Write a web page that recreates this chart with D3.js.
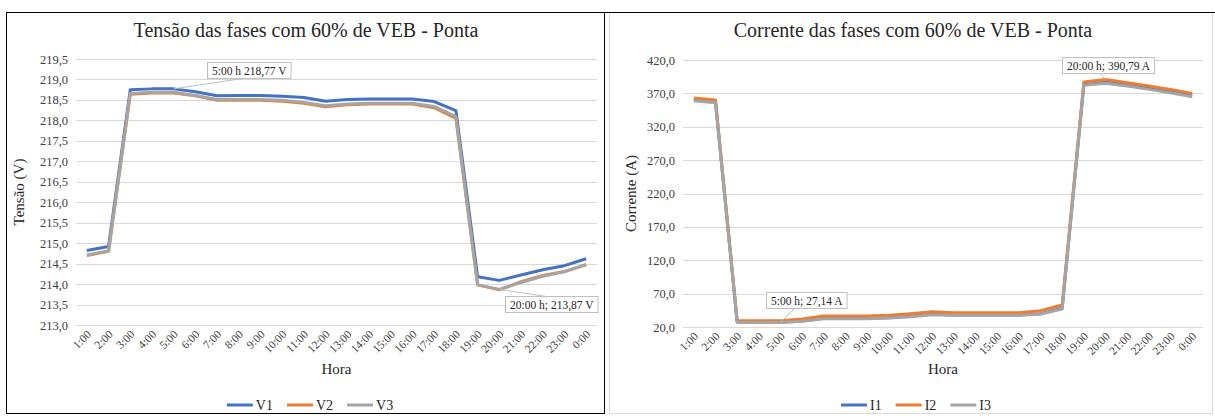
<!DOCTYPE html>
<html>
<head>
<meta charset="utf-8">
<script src="https://cdn.jsdelivr.net/npm/d3@7"></script>
<style>
  html, body { margin: 0; padding: 0; background: #fff; }
  svg { display: block; }
  text { font-family: "Liberation Serif", "Times New Roman", serif; }
</style>
</head>
<body>
<svg id="chart" width="1215" height="420"></svg>
<script>
// Hourly categories shared by both panels
const hours = ["1:00","2:00","3:00","4:00","5:00","6:00","7:00","8:00","9:00","10:00","11:00","12:00",
               "13:00","14:00","15:00","16:00","17:00","18:00","19:00","20:00","21:00","22:00","23:00","0:00"];

// Phase voltages (V)
const v1 = [214.82,214.92,218.75,218.77,218.77,218.70,218.60,218.61,218.61,218.59,218.56,218.47,
            218.51,218.52,218.52,218.52,218.46,218.24,214.18,214.09,214.22,214.35,214.45,214.62];
const v2 = [214.70,214.80,218.64,218.67,218.67,218.60,218.49,218.49,218.49,218.47,218.42,218.33,
            218.38,218.40,218.40,218.40,218.31,218.05,213.98,213.86,214.06,214.21,214.31,214.47];
const v3 = [214.71,214.81,218.66,218.69,218.69,218.61,218.51,218.51,218.51,218.49,218.44,218.36,
            218.40,218.42,218.42,218.42,218.34,218.09,213.98,213.87,214.04,214.19,214.30,214.48];

// Phase currents (A)
const i1 = [360.0,357.0,27.6,27.1,27.14,29.0,33.0,33.0,33.0,34.0,36.0,39.0,
            38.0,38.0,38.0,38.0,40.0,48.0,383.0,386.5,382.5,377.5,372.5,366.0];
const i2 = [363.0,360.0,29.6,29.5,29.5,32.0,36.5,36.5,36.5,37.5,40.0,43.0,
            41.5,41.5,41.5,41.5,44.5,53.0,387.0,390.79,386.0,381.0,376.0,370.0];
const i3 = [359.0,356.0,27.2,26.8,26.9,28.5,32.5,32.5,32.5,33.5,35.5,38.5,
            37.5,37.5,37.5,37.5,39.5,47.0,382.0,385.0,381.0,376.0,371.0,365.0];

// Axis ticks
const voltTicks = [213.0,213.5,214.0,214.5,215.0,215.5,216.0,216.5,217.0,217.5,218.0,218.5,219.0,219.5];
const currTicks = [20,70,120,170,220,270,320,370,420];

const seriesColors = ["#4472C4", "#ED7D31", "#A5A5A5"];

const fmt1 = v => d3.format(".1f")(v).replace(".", ",");
const fmt2 = v => d3.format(".2f")(v).replace(".", ",");

const svg = d3.select("#chart");

// Outer frame and panel borders
svg.append("rect").attr("x", 609.5).attr("y", 12.5).attr("width", 603).attr("height", 401)
  .attr("fill", "none").attr("stroke", "#D9D9D9").attr("stroke-width", 1);
svg.append("line").attr("x1", 604).attr("x2", 1215).attr("y1", 12.5).attr("y2", 12.5)
  .attr("stroke", "#000");
svg.append("rect").attr("x", 6.5).attr("y", 12.5).attr("width", 598).attr("height", 401)
  .attr("fill", "none").attr("stroke", "#000").attr("stroke-width", 1);

function drawPanel(cfg) {
  const g = svg.append("g");
  const x = d3.scaleBand().domain(hours).range([cfg.x0, cfg.x1]);
  const y = d3.scaleLinear().domain(cfg.domain).range([cfg.y1, cfg.y0]);
  const cx = h => x(h) + x.bandwidth() / 2;

  // Title
  g.append("text").attr("x", cfg.titleX).attr("y", cfg.titleY)
    .attr("text-anchor", "middle").attr("font-size", 20).attr("fill", "#262626")
    .text(cfg.title);

  // Horizontal gridlines
  g.append("g").selectAll("line").data(cfg.ticks).join("line")
    .attr("x1", cfg.x0).attr("x2", cfg.x1)
    .attr("y1", d => Math.round(y(d)) + 0.5).attr("y2", d => Math.round(y(d)) + 0.5)
    .attr("stroke", "#D9D9D9").attr("stroke-width", 1);

  // Y axis labels
  const yAxis = d3.axisLeft(y).tickValues(cfg.ticks).tickSize(0).tickPadding(8).tickFormat(fmt1);
  const ya = g.append("g").attr("transform", `translate(${cfg.x0},0)`).call(yAxis);
  ya.select(".domain").remove();
  ya.selectAll("text").attr("font-size", 12.5).attr("fill", "#404040")
    .attr("font-family", "Liberation Serif, serif");

  // X axis labels (rotated)
  const xAxis = d3.axisBottom(x).tickSize(0).tickPadding(0);
  const xa = g.append("g").attr("transform", `translate(0,${cfg.y1})`).call(xAxis);
  xa.select(".domain").remove();
  xa.selectAll("text")
    .attr("font-size", 11.5).attr("fill", "#404040").attr("font-family", "Liberation Serif, serif")
    .attr("text-anchor", "end").attr("dy", null).attr("y", 0)
    .attr("transform", "translate(5,10) rotate(-45)");

  // Axis titles
  g.append("text").attr("transform", `translate(${cfg.yTitleX},${(cfg.y0 + cfg.y1) / 2}) rotate(-90)`)
    .attr("text-anchor", "middle").attr("font-size", 15).attr("fill", "#262626").text(cfg.yTitle);
  g.append("text").attr("x", (cfg.x0 + cfg.x1) / 2).attr("y", 374)
    .attr("text-anchor", "middle").attr("font-size", 15).attr("fill", "#262626").text("Hora");

  // Series lines
  const line = d3.line().x((d, i) => cx(hours[i])).y(d => y(d));
  cfg.series.forEach((s, k) => {
    g.append("path").datum(s.values).attr("d", line)
      .attr("fill", "none").attr("stroke", seriesColors[k]).attr("stroke-width", 3)
      .attr("stroke-linejoin", "round");
  });

  // Data callouts: leader line, boxed label
  cfg.callouts.forEach(c => {
    const s = cfg.series[c.series];
    const idx = hours.indexOf(c.hour);
    const px = cx(c.hour), py = y(s.values[idx]);
    const label = c.text(c.hour, s.values[idx]);
    const cg = g.append("g");
    const leader = cg.append("line");
    const box = cg.append("rect");
    const t = cg.append("text").attr("font-size", 11.5).attr("fill", "#262626").text(label);
    const w = t.node().getComputedTextLength() + 9, h = 16;
    leader.attr("x1", px).attr("y1", py).attr("x2", c.lx).attr("y2", c.ly)
      .attr("stroke", "#BFBFBF").attr("stroke-width", 1);
    box.attr("x", c.bx + 0.5).attr("y", c.by + 0.5).attr("width", w).attr("height", h)
      .attr("fill", "#fff").attr("stroke", "#BFBFBF").attr("stroke-width", 1);
    t.attr("x", c.bx + 5).attr("y", c.by + 12.5);
  });

  // Legend
  const lg = g.append("g");
  let lx = 0;
  cfg.series.forEach((s, k) => {
    lg.append("line").attr("x1", lx).attr("x2", lx + 26).attr("y1", 405).attr("y2", 405)
      .attr("stroke", seriesColors[k]).attr("stroke-width", 3);
    const tt = lg.append("text").attr("x", lx + 29).attr("y", 410)
      .attr("font-size", 14).attr("fill", "#262626").text(s.name);
    lx += 29 + tt.node().getComputedTextLength() + 14;
  });
  const lw = lx - 14;
  lg.attr("transform", `translate(${cfg.legendCenter - lw / 2},0)`);
}

drawPanel({
  title: "Tensão das fases com 60% de VEB - Ponta",
  yTitle: "Tensão (V)",
  x0: 76, x1: 597, y0: 59, y1: 325, titleX: 306, titleY: 37, yTitleX: 24,
  domain: [213.0, 219.5], ticks: voltTicks, legendCenter: 310,
  series: [{name: "V1", values: v1}, {name: "V2", values: v2}, {name: "V3", values: v3}],
  callouts: [
    {series: 0, hour: "5:00", bx: 207, by: 62, lx: 246, ly: 78,
     text: (h, v) => `${h} h ${fmt2(v)} V`},
    {series: 2, hour: "20:00", bx: 505, by: 296, lx: 550, ly: 297,
     text: (h, v) => `${h} h; ${fmt2(v)} V`}
  ]
});

drawPanel({
  title: "Corrente das fases com 60% de VEB - Ponta",
  yTitle: "Corrente (A)",
  x0: 683, x1: 1203, y0: 60, y1: 327, titleX: 913, titleY: 37, yTitleX: 636,
  domain: [20, 420], ticks: currTicks, legendCenter: 916,
  series: [{name: "I1", values: i1}, {name: "I2", values: i2}, {name: "I3", values: i3}],
  callouts: [
    {series: 1, hour: "20:00", bx: 1062, by: 57, lx: 1100, ly: 73},
    {series: 0, hour: "5:00", bx: 766, by: 292, lx: 795, ly: 308}
  ].map(c => Object.assign(c, {text: (h, v) => `${h} h; ${fmt2(v)} A`}))
});
</script>
</body>
</html>
